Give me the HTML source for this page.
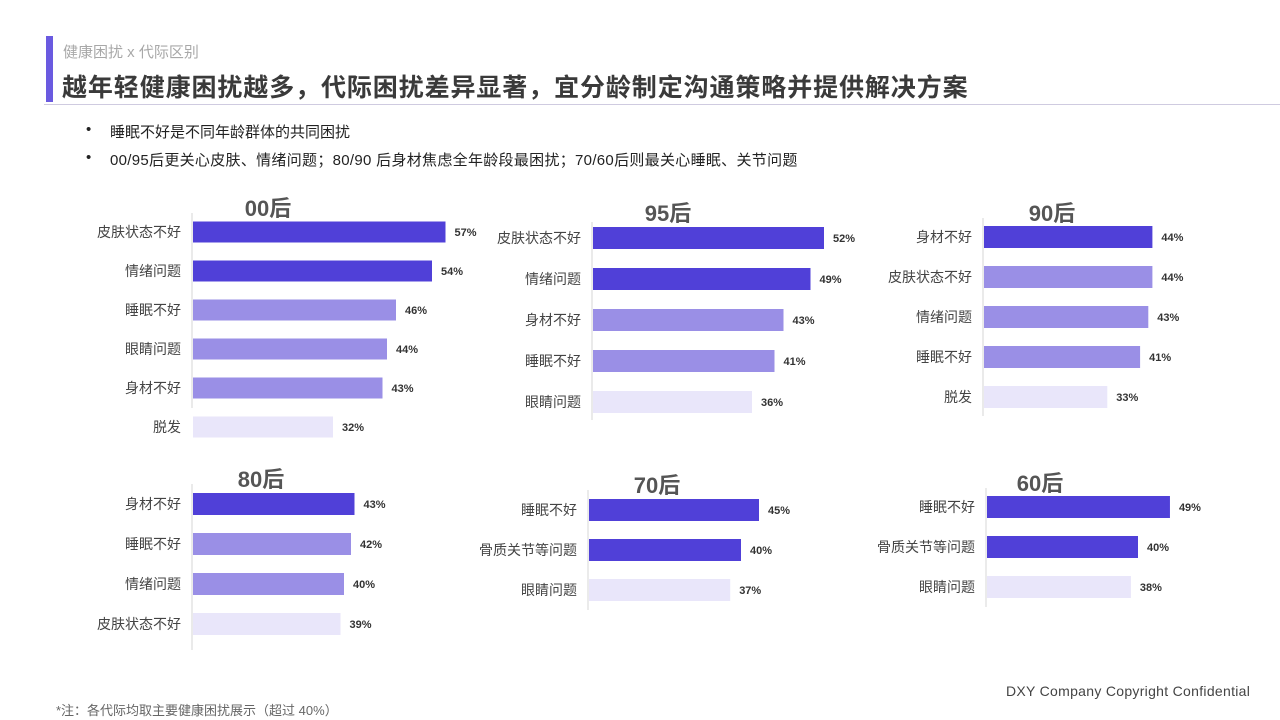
<!DOCTYPE html>
<html><head><meta charset="utf-8">
<style>
body{margin:0;width:1280px;height:720px;background:#fff;overflow:hidden;font-family:"Liberation Sans","Noto Sans CJK SC",sans-serif;position:relative}
.abs{position:absolute;white-space:nowrap}
</style></head>
<body>
<div class="abs" style="left:46px;top:36px;width:7px;height:66px;background:#6a5ae0"></div>
<div class="abs" style="left:63px;top:41px;font-size:15px;color:#a8a8a8">健康困扰 x 代际区别</div>
<div class="abs" style="left:62px;top:68px;font-size:25px;letter-spacing:0.9px;font-weight:bold;color:#3a3a3a">越年轻健康困扰越多，代际困扰差异显著，宜分龄制定沟通策略并提供解决方案</div>
<div class="abs" style="left:44px;top:104px;width:1236px;height:1px;background:#cfcbe0"></div>
<div class="abs" style="left:86px;top:121px;font-size:15px;color:#222">•<span style="position:absolute;left:24px">睡眠不好是不同年龄群体的共同困扰</span></div>
<div class="abs" style="left:86px;top:149px;font-size:15px;color:#222">•<span style="position:absolute;left:24px;letter-spacing:0.3px">00/95后更关心皮肤、情绪问题；80/90 后身材焦虑全年龄段最困扰；70/60后则最关心睡眠、关节问题</span></div>
<div class="abs" style="left:56px;top:700px;font-size:13px;color:#666">*注：各代际均取主要健康困扰展示（超过 40%）</div>
<div class="abs" style="left:1006px;top:683px;font-size:14px;letter-spacing:0.3px;color:#444">DXY Company Copyright Confidential</div>
<svg id="svg" class="abs" style="left:0;top:0" width="1280" height="720"></svg>
<script>
const cats00=["皮肤状态不好","情绪问题","睡眠不好","眼睛问题","身材不好","脱发"];
const vals00=[57,54,46,44,43,32];
const cats95=["皮肤状态不好","情绪问题","身材不好","睡眠不好","眼睛问题"];
const vals95=[52,49,43,41,36];
const cats90=["身材不好","皮肤状态不好","情绪问题","睡眠不好","脱发"];
const vals90=[44,44,43,41,33];
const cats80=["身材不好","睡眠不好","情绪问题","皮肤状态不好"];
const vals80=[43,42,40,39];
const cats70=["睡眠不好","骨质关节等问题","眼睛问题"];
const vals70=[45,40,37];
const cats60=["睡眠不好","骨质关节等问题","眼睛问题"];
const vals60=[49,40,38];
const D="#5040d8",M="#9a8fe6",L="#e9e6fa";
const charts=[
 {name:"00后",cats:cats00,vals:vals00,x0:193,y0:232,step:39,h:21,k:4.5,c:-4,cols:[D,D,M,M,M,L],tx:268,ty:216,ay0:213,ay1:408},
 {name:"95后",cats:cats95,vals:vals95,x0:593,y0:238,step:41,h:22,k:4.5,c:-3,cols:[D,D,M,M,L],tx:668,ty:221,ay0:222,ay1:420},
 {name:"90后",cats:cats90,vals:vals90,x0:984,y0:237,step:40,h:22,k:4.1,c:-12,cols:[D,M,M,M,L],tx:1052,ty:221,ay0:218,ay1:416},
 {name:"80后",cats:cats80,vals:vals80,x0:193,y0:504,step:40,h:22,k:3.5,c:11,cols:[D,M,M,L],tx:261,ty:487,ay0:484,ay1:650},
 {name:"70后",cats:cats70,vals:vals70,x0:589,y0:510,step:40,h:22,k:3.6,c:8,cols:[D,D,L],tx:657,ty:493,ay0:490,ay1:610},
 {name:"60后",cats:cats60,vals:vals60,x0:987,y0:507,step:40,h:22,k:3.55,c:9,cols:[D,D,L],tx:1040,ty:491,ay0:488,ay1:607}
];
const svg=document.getElementById('svg');
const NS="http://www.w3.org/2000/svg";
function mk(t,a,txt){const e=document.createElementNS(NS,t);for(const k in a)e.setAttribute(k,a[k]);if(txt!==undefined)e.textContent=txt;svg.appendChild(e);return e;}
charts.forEach((ch,ci)=>{
 const xs=v=>ch.k*v+ch.c;
 const ys=i=>ch.y0+i*ch.step;
 const ax=mk('line',{x1:ch.x0-1,x2:ch.x0-1,y1:ch.ay0,y2:ch.ay1,stroke:'#e4e4e4','stroke-width':1.5});
 
 
 const t=mk('text',{x:ch.tx,y:ch.ty,'text-anchor':'middle','font-size':22,'font-weight':'bold',fill:'#555','font-family':'"Liberation Sans","Noto Sans CJK SC",sans-serif'},ch.name);
 
 
 ch.vals.forEach((v,i)=>{
  const w=xs(v);
  const r=mk('rect',{x:ch.x0,y:ys(i)-ch.h/2,width:w,height:ch.h,fill:ch.cols[i]});
  
  
  const lb=mk('text',{x:ch.x0-12,y:ys(i)+5,'text-anchor':'end','font-size':14,fill:'#444','font-family':'"Liberation Sans","Noto Sans CJK SC",sans-serif'},ch.cats[i]);
  
  
  const vl=mk('text',{x:ch.x0+w+9,y:ys(i)+4,'font-size':11,'font-weight':'bold',fill:'#333','font-family':'"Liberation Sans",sans-serif'},v+'%');
  
  
 });
});
</script>
</body></html>
